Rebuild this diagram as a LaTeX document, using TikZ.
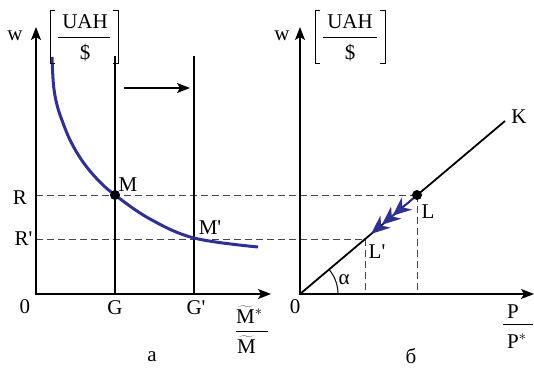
\documentclass[tikz,border=0pt]{standalone}
\usepackage{fontspec}
\setmainfont{Liberation Serif}
\usetikzlibrary{arrows.meta,calc}
\definecolor{curveblue}{RGB}{46,49,146}
\newcommand{\prm}{\textquotesingle}
\begin{document}
\fontsize{21}{25}\selectfont
\begin{tikzpicture}[x=1pt,y=-1pt,
  axis/.style={line width=1.3pt,{Stealth[length=13pt,width=10pt,inset=3pt]}-{Stealth[length=13pt,width=10pt,inset=3pt]}},
  vline/.style={line width=1.2pt},
  guide/.style={line width=1pt,black!72,dash pattern=on 7pt off 4pt},
  curve/.style={line width=3pt,curveblue},
  dot/.style={circle,fill=black,inner sep=0pt,minimum size=10pt},
  lbl/.style={inner sep=0pt},
  bracket/.style={line width=1pt},
  bar/.style={line width=0.9pt},
  shiftarrow/.style={line width=1.3pt,-{Stealth[length=13pt,width=10pt,inset=3pt]}},
  movehead/.style={fill=curveblue,draw=none}
]
\useasboundingbox (0,0) rectangle (534,367);

% ---------------- left panel ----------------
\coordinate (O1) at (36,294);
\coordinate (Y1) at (36,27);
\coordinate (X1) at (271,294);
\coordinate (Gt) at (115,56);
\coordinate (Gb) at (115,294);
\coordinate (Gpt) at (194,56);
\coordinate (Gpb) at (194,294);
\coordinate (Rl) at (36,195);
\coordinate (Rpl) at (36,239);
\coordinate (Sa) at (124,88);
\coordinate (Sb) at (190,88);

% ---------------- right panel ----------------
\coordinate (O2) at (300,294);
\coordinate (Y2) at (300,27);
\coordinate (X2) at (534,294);
\coordinate (Kend) at (505,121);
\coordinate (Lc) at (417,195);
\coordinate (Lpc) at (365,239);
\coordinate (Lb) at (417,294);
\coordinate (Lpb) at (365,294);

% dashed guides
\draw[guide] (Rl) -- (Lc);
\draw[guide] (Rpl) -- (Lpc);
\draw[guide] (Lc) -- (Lb);
\draw[guide] (Lpc) -- (Lpb);

% axes
\draw[axis] (Y1) -- (O1) -- (X1);
\draw[axis] (Y2) -- (O2) -- (X2);

% vertical lines G, G'
\draw[vline] (Gt) -- (Gb);
\draw[vline] (Gpt) -- (Gpb);
\draw[shiftarrow] (Sa) -- (Sb);

% curve
\draw[curve] plot[smooth,tension=0.6] coordinates
  {(52,57) (53.5,85) (57,105) (63,123) (71,142) (83,162) (98,180) (115,195) (150,219) (194,238) (258,247)};

% ray OK
\draw[line width=1.8pt] (O2) -- (Kend);
\draw[line width=1pt] ([xshift=38pt]O2) arc[start angle=0,end angle=40.2,radius=38pt];

% dots
\node[dot] (M) at (115,195) {};
\node[dot] (L) at (Lc) {};
\coordinate (Lp) at (Lpc);
\draw[line width=1.5pt,curveblue] (L) -- ($(Lp)!34pt!(L)$);
% three arrowheads drawn as filled shapes along L -> L'
\foreach \d in {36,22,8}{
  \path[movehead]
    ($(Lp)!\d pt!(L)$)
    -- ($(Lp)!\d pt + 19pt!(L)!8pt!90:(L)$)
    -- ($(Lp)!\d pt + 13pt!(L)$)
    -- ($(Lp)!\d pt + 19pt!(L)!8pt!-90:(L)$)
    -- cycle;
}

% brackets and units
\draw[bracket] (55,10) -- (50,10) -- (50,63) -- (55,63);
\draw[bracket] (113,10) -- (118,10) -- (118,63) -- (113,63);
\coordinate (bar1a) at (58,37);
\coordinate (bar1b) at (110,37);
\draw[bar] (bar1a) -- (bar1b);
\node[lbl] (uah1) at (85,21.5) {UAH};
\node[lbl] (dol1) at (85,53) {\$};

\draw[bracket] (320,10) -- (315,10) -- (315,63) -- (320,63);
\draw[bracket] (380,10) -- (385,10) -- (385,63) -- (380,63);
\coordinate (bar2a) at (323,37);
\coordinate (bar2b) at (377,37);
\draw[bar] (bar2a) -- (bar2b);
\node[lbl] (uah2) at (350,21.5) {UAH};
\node[lbl] (dol2) at (350,53) {\$};

% labels left
\node[lbl] (w1) at (15,36) {w};
\node[lbl] (R) at (20,198) {R};
\node[lbl] (Rp) at (23.5,238.5) {R\prm};
\node[lbl] (zero1) at (25,307) {0};
\node[lbl] (G) at (115,308) {G};
\node[lbl] (Gp) at (196,308) {G\prm};
\node[lbl] (Mlbl) at (128,185) {M};
\node[lbl] (Mplbl) at (210,228) {M\prm};
\node[lbl] (a) at (152,357) {а};
\node[lbl,anchor=base west] (num1) at (236,323) {$\widetilde{\mathrm{M}}^{*}$};
\coordinate (fb1a) at (236,331);
\coordinate (fb1b) at (268,331);
\draw[bar] (fb1a) -- (fb1b);
\node[lbl,anchor=base west] (den1) at (237,353) {$\widetilde{\mathrm{M}}$};

% labels right
\node[lbl] (w2) at (282,36) {w};
\node[lbl] (zero2) at (295,307) {0};
\node[lbl] (alpha) at (344,280) {α};
\node[lbl] (Llbl) at (428,212) {L};
\node[lbl] (Lplbl) at (377,252) {L\prm};
\node[lbl] (K) at (519,117) {K};
\node[lbl] (b) at (411,356.5) {б};
\node[lbl,anchor=base west] (num2) at (507,318) {P};
\coordinate (fb2a) at (503,324);
\coordinate (fb2b) at (533,324);
\draw[bar] (fb2a) -- (fb2b);
\node[lbl,anchor=base west] (den2) at (507,348) {P$^{*}$};
\end{tikzpicture}
\end{document}
